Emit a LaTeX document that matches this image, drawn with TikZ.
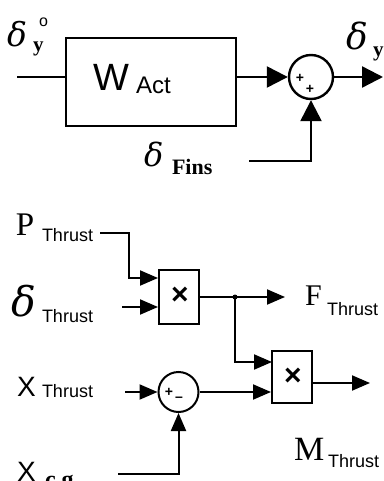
\documentclass[tikz,border=0pt]{standalone}
\usepackage{fontspec}
\setmainfont{Liberation Serif}
\setsansfont{Liberation Sans}
\newfontfamily\dlt{DejaVu Serif}
\usetikzlibrary{arrows.meta}
\newcommand{\fsz}[1]{\fontsize{#1}{#1}\selectfont}
\begin{document}
\begin{tikzpicture}[x=1pt,y=-1pt,line width=2.4pt,
  lbl/.style={anchor=base west,inner sep=0,outer sep=0},
  sym/.style={inner sep=0,outer sep=0,font=\sffamily\bfseries\fsz{14}},
  bigarr/.style={-{Triangle[length=21pt,width=21pt]}},
  smallarr/.style={-{Triangle[length=18pt,width=15pt]}},
  sumnode/.style={circle,draw,inner sep=0},
  blk/.style={rectangle,draw,inner sep=0}]
\useasboundingbox (0,0) rectangle (383,481);

% ---------- top part ----------
\node[blk,minimum width=170pt,minimum height=88pt] (act) at (151,82) {};
\node[sumnode,minimum size=44pt] (s1) at (311,77) {};
\node[sym] (p1) at (300,78) {+};
\node[sym] (p2) at (310,89) {+};
\coordinate (in1) at (17,77);
\coordinate (out1) at (383,77);
\coordinate (fins) at (249,161);

\node[lbl,font=\dlt\itshape\fsz{33}] (dy0) at (7,47) {δ};
\node[lbl,font=\bfseries\fsz{21}] (dy0s) at (33,52) {y};
\node[lbl,font=\sffamily\fsz{16}] (dy0o) at (39,27) {o};
\node[lbl,font=\sffamily\fsz{38}] (wl) at (93,91) {W};
\node[lbl,font=\sffamily\fsz{24}] (actl) at (136,94) {Act};
\node[lbl,font=\dlt\itshape\fsz{32}] (df) at (144,167) {δ};
\node[lbl,font=\bfseries\fsz{22}] (dfs) at (172,175) {Fins};
\node[lbl,font=\dlt\itshape\fsz{36}] (dy) at (346,50) {δ};
\node[lbl,font=\bfseries\fsz{21}] (dys) at (373,57) {y};

\draw (in1) -- (in1 -| act.west);
\draw[bigarr] (in1 -| act.east) -- (s1.west);
\draw[bigarr] (s1.east) -- (out1);
\draw[bigarr] (fins) -| (s1.south);

% ---------- bottom part ----------
\begin{scope}[line width=2pt]
\node[blk,minimum width=40pt,minimum height=54pt] (m1) at (179,297) {};
\node[blk,minimum width=40pt,minimum height=52pt] (m2) at (292,377) {};
\node[sumnode,minimum size=40pt] (s2) at (178.5,392) {};
\end{scope}
\node[sym,font=\sffamily\bfseries\fsz{30}] (x1) at (180,296) {×};
\node[sym,font=\sffamily\bfseries\fsz{30}] (x2) at (293,377) {×};
\node[sym] (p3) at (169,392) {+};
\node[sym] (mn) at (179,399) {–};

\coordinate (pstart) at (100,233);
\coordinate (pbend) at (129,278);
\coordinate (dstart) at (122,307);
\coordinate (jct) at (235,297);
\coordinate (fout) at (285,297);
\coordinate (m2a) at (272,362);
\coordinate (xstart) at (125,392);
\coordinate (cgstart) at (118,474);
\coordinate (mout) at (370,383);

\node[lbl,font=\fsz{33}] (pl) at (16,235) {P};
\node[lbl,font=\sffamily\fsz{18}] (pls) at (42,241) {Thrust};
\node[lbl,font=\dlt\itshape\fsz{41}] (dtl) at (12,316) {δ};
\node[lbl,font=\sffamily\fsz{18}] (dtls) at (42,322) {Thrust};
\node[lbl,font=\fsz{30}] (fl) at (305,305) {F};
\node[lbl,font=\sffamily\fsz{18}] (fls) at (327,315) {Thrust};
\node[lbl,font=\sffamily\fsz{28}] (xl) at (17,396) {X};
\node[lbl,font=\sffamily\fsz{18}] (xls) at (42,397) {Thrust};
\node[lbl,font=\sffamily\fsz{28}] (cgl) at (17,481) {X};
\node[lbl,font=\bfseries\fsz{24}] (cgls) at (45,487) {c.g.};
\node[lbl,font=\fsz{34}] (ml) at (294,460) {M};
\node[lbl,font=\sffamily\fsz{18}] (mls) at (328,467) {Thrust};

\begin{scope}[line width=2pt]
\draw[smallarr] (pstart) -| (pbend) -- (pbend -| m1.west);
\draw[smallarr] (dstart) -- (dstart -| m1.west);
\draw[smallarr] (m1.east |- jct) -- (fout);
\fill (jct) circle (2.5pt);
\draw[smallarr] (jct) |- (m2a);
\draw[smallarr] (xstart) -- (s2.west);
\draw[smallarr] (s2.east) -- (s2.east -| m2.west);
\draw[smallarr] (cgstart) -| (s2.south);
\draw[smallarr] (m2.east |- mout) -- (mout);
\end{scope}
\end{tikzpicture}
\end{document}
